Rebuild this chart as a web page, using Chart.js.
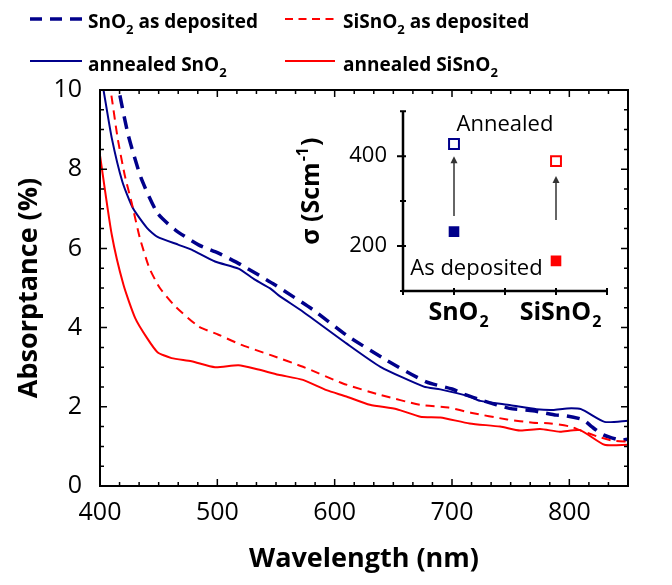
<!DOCTYPE html>
<html lang="en">
<head>
<meta charset="utf-8">
<title>Absorptance</title>
<script src="https://cdn.jsdelivr.net/npm/chart.js@4.4.1/dist/chart.umd.min.js"></script>
<style>
  body { margin: 0; background: #fff; }
  #contenedor { position: relative; width: 672px; height: 585px; font-family: "Open Sans", sans-serif; }
  #grafico-principal { position: absolute; left: 0; top: 0; }
  #grafico-recuadro { position: absolute; left: 290px; top: 90px; }
  .leyenda-texto { position: absolute; font-weight: bold; font-size: 19px; line-height: 24px; white-space: nowrap; color: #000; }
  .leyenda-texto sub { font-size: 13px; line-height: 0; vertical-align: -6px; }
  svg.leyenda-linea { position: absolute; }
</style>
</head>
<body>
<div id="contenedor">
  <canvas id="grafico-principal" width="672" height="585"></canvas>
  <canvas id="grafico-recuadro" width="340" height="250"></canvas>

  <svg class="leyenda-linea" style="left:30px;top:15px" width="52" height="8"><line x1="0" y1="4" x2="52" y2="4" stroke="#00008b" stroke-width="3.5" stroke-dasharray="12 8"/></svg>
  <div class="leyenda-texto" style="left:88px;top:9px">SnO<sub>2</sub> as deposited</div>
  <svg class="leyenda-linea" style="left:285px;top:15px" width="50" height="8"><line x1="0" y1="4" x2="50" y2="4" stroke="#ff0000" stroke-width="2" stroke-dasharray="8 5.5"/></svg>
  <div class="leyenda-texto" style="left:343px;top:9px">SiSnO<sub>2</sub> as deposited</div>

  <svg class="leyenda-linea" style="left:30px;top:57px" width="52" height="8"><line x1="0" y1="4" x2="52" y2="4" stroke="#00008b" stroke-width="2"/></svg>
  <div class="leyenda-texto" style="left:88px;top:52px">annealed SnO<sub>2</sub></div>
  <svg class="leyenda-linea" style="left:285px;top:57px" width="50" height="8"><line x1="0" y1="4" x2="50" y2="4" stroke="#ff0000" stroke-width="2"/></svg>
  <div class="leyenda-texto" style="left:343px;top:52px">annealed SiSnO<sub>2</sub></div>
</div>
<script>
const azul = "#00008b";
const rojo = "#ff0000";

// Absorptancia (%) frente a longitud de onda (nm)
const snoDepositadoX = [410, 416, 424, 435, 449, 464, 484, 501, 520, 549, 582, 610, 644, 678, 700, 710, 727, 749, 769, 789, 798, 812, 819, 829, 843, 850];
const snoDepositadoY = [10.9, 10.0, 8.87, 7.78, 6.89, 6.47, 6.09, 5.88, 5.59, 5.08, 4.44, 3.81, 3.18, 2.63, 2.45, 2.32, 2.15, 1.96, 1.90, 1.79, 1.77, 1.67, 1.50, 1.29, 1.16, 1.18];

const snoRecocidoX = [400, 403, 410, 419, 428, 440, 449, 467, 478, 498, 518, 532, 545, 552, 573, 610, 639, 676, 690, 715, 724, 750, 772, 786, 798, 810, 830, 850];
const snoRecocidoY = [10.5, 10.0, 8.79, 7.69, 7.02, 6.52, 6.29, 6.09, 5.97, 5.67, 5.49, 5.21, 4.99, 4.82, 4.40, 3.60, 3.01, 2.51, 2.44, 2.26, 2.15, 2.04, 1.94, 1.92, 1.96, 1.94, 1.62, 1.65];

const sisnoDepositadoX = [405, 409, 415, 421, 427, 434, 442, 451, 464, 484, 501, 520, 545, 573, 607, 639, 673, 697, 716, 747, 769, 784, 801, 809, 826, 838, 850];
const sisnoDepositadoY = [10.6, 10.0, 8.79, 7.86, 7.15, 6.26, 5.51, 5.00, 4.54, 4.03, 3.82, 3.57, 3.31, 3.01, 2.59, 2.30, 2.05, 1.98, 1.85, 1.68, 1.60, 1.58, 1.50, 1.41, 1.23, 1.14, 1.12];

const sisnoRecocidoX = [400, 410, 420, 430, 440, 449, 461, 478, 498, 518, 535, 552, 573, 593, 610, 630, 653, 673, 690, 715, 741, 758, 775, 792, 809, 830, 850];
const sisnoRecocidoY = [8.35, 6.35, 5.08, 4.24, 3.74, 3.38, 3.23, 3.15, 3.00, 3.05, 2.94, 2.81, 2.68, 2.42, 2.26, 2.05, 1.94, 1.75, 1.73, 1.58, 1.50, 1.40, 1.44, 1.37, 1.41, 1.04, 1.04];

const etiquetasX = [400, 500, 600, 700, 800];
const etiquetasY = [0, 2, 4, 6, 8, 10];

// Recuadro: conductividad (S/cm)
const categoriasRecuadro = ["SnO2", "SiSnO2"];
const conductividadDepositado = [232, 167];
const conductividadRecocido = [427, 389];
const flechaInicio = [267, 258];
const flechaFin = [400, 356];
const etiquetasRecuadroY = [200, 400];

Chart.defaults.font.family = "'Open Sans', sans-serif";
Chart.defaults.color = "#000";

function armarPuntos(xs, ys) {
  return xs.map(function (x, i) { return { x: x, y: ys[i] }; });
}

// dibuja texto con el 2 final como subindice
function textoConSubindice(ctx, texto, x, y, tam) {
  const base = texto.slice(0, -1);
  const sub = texto.slice(-1);
  ctx.font = "bold " + tam + "px 'Open Sans'";
  const anchoBase = ctx.measureText(base).width;
  ctx.font = "bold " + Math.round(tam * 0.65) + "px 'Open Sans'";
  const anchoSub = ctx.measureText(sub).width;
  const inicio = x - (anchoBase + anchoSub) / 2;
  ctx.textAlign = "left";
  ctx.textBaseline = "alphabetic";
  ctx.font = "bold " + tam + "px 'Open Sans'";
  ctx.fillText(base, inicio, y);
  ctx.font = "bold " + Math.round(tam * 0.65) + "px 'Open Sans'";
  ctx.fillText(sub, inicio + anchoBase + 1, y + tam * 0.28);
}

const marcoConMarcas = {
  id: "marcoConMarcas",
  afterDraw(chart) {
    const ctx = chart.ctx;
    const a = chart.chartArea;
    const x = chart.scales.x;
    const y = chart.scales.y;
    ctx.save();
    ctx.strokeStyle = "#000";
    ctx.lineWidth = 2;
    ctx.strokeRect(a.left, a.top, a.right - a.left, a.bottom - a.top);
    ctx.lineWidth = 1.5;
    ctx.beginPath();
    for (let i = 0; i <= 27; i++) {
      const px = x.getPixelForValue(400 + i * 100 / 6);
      const largo = i % 6 === 0 ? 7 : 4;
      ctx.moveTo(px, a.bottom); ctx.lineTo(px, a.bottom - largo);
      ctx.moveTo(px, a.top); ctx.lineTo(px, a.top + largo);
    }
    for (let i = 0; i <= 20; i++) {
      const py = y.getPixelForValue(i * 0.5);
      const largo = i % 4 === 0 ? 7 : 4;
      ctx.moveTo(a.left, py); ctx.lineTo(a.left + largo, py);
      ctx.moveTo(a.right, py); ctx.lineTo(a.right - largo, py);
    }
    ctx.stroke();
    ctx.restore();
  }
};

new Chart(document.getElementById("grafico-principal").getContext("2d"), {
  type: "line",
  data: {
    datasets: [
      {
        label: "annealed SiSnO2",
        data: armarPuntos(sisnoRecocidoX, sisnoRecocidoY),
        borderColor: rojo, borderWidth: 2, pointRadius: 0, tension: 0.2
      },
      {
        label: "SiSnO2 as deposited",
        data: armarPuntos(sisnoDepositadoX, sisnoDepositadoY),
        borderColor: rojo, borderWidth: 2, borderDash: [9, 6], pointRadius: 0, tension: 0.2
      },
      {
        label: "annealed SnO2",
        data: armarPuntos(snoRecocidoX, snoRecocidoY),
        borderColor: azul, borderWidth: 2, pointRadius: 0, tension: 0.2
      },
      {
        label: "SnO2 as deposited",
        data: armarPuntos(snoDepositadoX, snoDepositadoY),
        borderColor: azul, borderWidth: 3.5, borderDash: [13, 8], pointRadius: 0, tension: 0.2
      }
    ]
  },
  options: {
    responsive: false,
    animation: false,
    layout: { padding: { top: 90, right: 44, left: 0, bottom: 0 } },
    plugins: { legend: { display: false }, tooltip: { enabled: false } },
    scales: {
      x: {
        type: "linear", min: 400, max: 850,
        grid: { display: false }, border: { display: false },
        afterBuildTicks: function (s) { s.ticks = etiquetasX.map(function (v) { return { value: v }; }); },
        afterFit: function (s) { s.height = 99; },
        ticks: { font: { size: 25 }, padding: 4, maxRotation: 0 },
        title: { display: true, text: "Wavelength (nm)", font: { size: 27, weight: "bold" }, padding: { top: 2, bottom: 9 } }
      },
      y: {
        min: 0, max: 10,
        grid: { display: false }, border: { display: false },
        afterBuildTicks: function (s) { s.ticks = etiquetasY.map(function (v) { return { value: v }; }); },
        afterFit: function (s) { s.width = 100; },
        ticks: { font: { size: 25 }, padding: 10 },
        title: { display: true, text: "Absorptance (%)", font: { size: 27, weight: "bold" }, padding: { top: 13, bottom: 0 } }
      }
    }
  },
  plugins: [marcoConMarcas]
});

const decoracionRecuadro = {
  id: "decoracionRecuadro",
  afterDraw(chart) {
    const ctx = chart.ctx;
    const a = chart.chartArea;
    const x = chart.scales.x;
    const y = chart.scales.y;
    ctx.save();
    ctx.strokeStyle = "#000";
    ctx.lineWidth = 2.5;
    ctx.beginPath();
    ctx.moveTo(a.left, a.top); ctx.lineTo(a.left, a.bottom); ctx.lineTo(a.right, a.bottom);
    ctx.stroke();
    ctx.lineWidth = 2;
    ctx.beginPath();
    [100, 200, 300, 400, 500].forEach(function (v) {
      const py = y.getPixelForValue(v);
      const largo = v % 200 === 0 ? 6 : 3;
      ctx.moveTo(a.left - largo, py); ctx.lineTo(a.left + 3, py);
    });
    [0.5, 1, 1.5, 2, 2.5].forEach(function (v) {
      const px = x.getPixelForValue(v);
      ctx.moveTo(px, a.bottom - 3); ctx.lineTo(px, a.bottom + 4);
    });
    ctx.stroke();

    // flechas
    ctx.strokeStyle = "#333";
    ctx.fillStyle = "#333";
    ctx.lineWidth = 1.5;
    categoriasRecuadro.forEach(function (c, i) {
      const px = x.getPixelForValue(i + 1);
      const y0 = y.getPixelForValue(flechaInicio[i]);
      const y1 = y.getPixelForValue(flechaFin[i]);
      ctx.beginPath();
      ctx.moveTo(px, y0); ctx.lineTo(px, y1 + 5);
      ctx.stroke();
      ctx.beginPath();
      ctx.moveTo(px, y1); ctx.lineTo(px - 3.5, y1 + 7); ctx.lineTo(px + 3.5, y1 + 7);
      ctx.closePath();
      ctx.fill();
    });

    ctx.fillStyle = "#000";
    ctx.font = "22px 'Open Sans'";
    ctx.textAlign = "center";
    ctx.textBaseline = "middle";
    ctx.fillText("Annealed", x.getPixelForValue(1.5), y.getPixelForValue(470));
    ctx.fillText("As deposited", x.getPixelForValue(1.22), y.getPixelForValue(150));

    categoriasRecuadro.forEach(function (c, i) {
      textoConSubindice(ctx, c, x.getPixelForValue(i + 1) + 4, a.bottom + 29, 25);
    });

    // titulo del eje y: σ (Scm^-1)
    ctx.translate(a.left - 91, a.top + 81);
    ctx.rotate(-Math.PI / 2);
    ctx.font = "bold 25px 'Open Sans'";
    const t1 = "\u03C3 (Scm";
    const t2 = "-1";
    const t3 = ")";
    const w1 = ctx.measureText(t1).width;
    const w3 = ctx.measureText(t3).width;
    ctx.font = "bold 16px 'Open Sans'";
    const w2 = ctx.measureText(t2).width;
    let inicio = -(w1 + w2 + w3) / 2;
    ctx.textAlign = "left";
    ctx.textBaseline = "middle";
    ctx.font = "bold 25px 'Open Sans'";
    ctx.fillText(t1, inicio, 0);
    ctx.font = "bold 16px 'Open Sans'";
    ctx.fillText(t2, inicio + w1 + 1, -9);
    ctx.font = "bold 25px 'Open Sans'";
    ctx.fillText(t3, inicio + w1 + w2 + 2, 0);
    ctx.restore();
  }
};

new Chart(document.getElementById("grafico-recuadro").getContext("2d"), {
  type: "scatter",
  data: {
    datasets: [
      {
        label: "As deposited",
        data: armarPuntos([1, 2], conductividadDepositado),
        pointStyle: "rect", pointRadius: 7.5,
        backgroundColor: [azul, rojo], borderColor: [azul, rojo], borderWidth: 0
      },
      {
        label: "Annealed",
        data: armarPuntos([1, 2], conductividadRecocido),
        pointStyle: "rect", pointRadius: 7,
        backgroundColor: "#fff", borderColor: [azul, rojo], borderWidth: 2
      }
    ]
  },
  options: {
    responsive: false,
    animation: false,
    layout: { padding: { top: 19, right: 23, left: 0, bottom: 0 } },
    plugins: { legend: { display: false }, tooltip: { enabled: false } },
    scales: {
      x: {
        type: "linear", min: 0.5, max: 2.5,
        grid: { display: false }, border: { display: false },
        ticks: { display: false },
        afterFit: function (s) { s.height = 49; }
      },
      y: {
        min: 100, max: 500,
        grid: { display: false }, border: { display: false },
        afterBuildTicks: function (s) { s.ticks = etiquetasRecuadroY.map(function (v) { return { value: v }; }); },
        afterFit: function (s) { s.width = 113; },
        ticks: { font: { size: 22 }, padding: 8 }
      }
    }
  },
  plugins: [decoracionRecuadro]
});
</script>
</body>
</html>
